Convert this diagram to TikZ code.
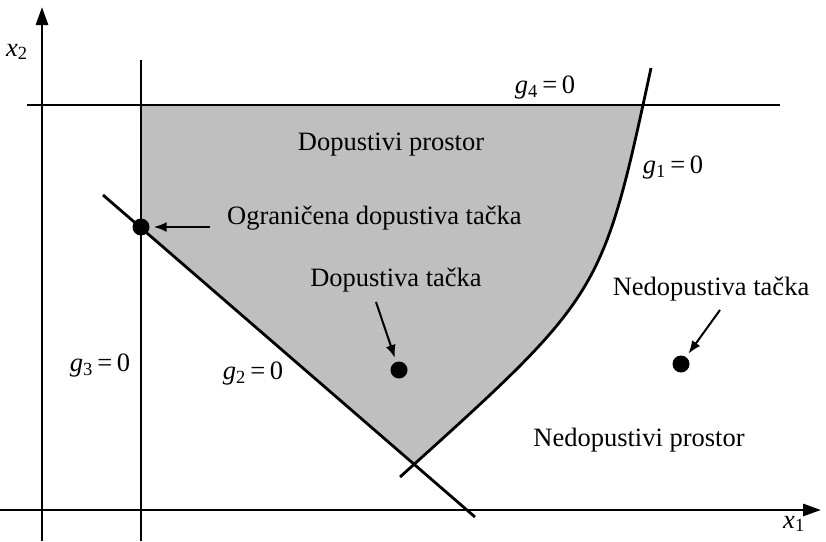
\documentclass[tikz,border=0pt]{standalone}
\usepackage{fontspec}
\setmainfont{Liberation Serif}
\usetikzlibrary{arrows.meta,positioning}
\tikzset{granica/.style={line width=2.8pt},osa/.style={line width=2.8pt,-{Triangle[length=18pt,width=12pt]}},strel/.style={line width=2pt,-{Latex[length=13pt,width=10pt]}},tacka/.style={circle,fill=black,inner sep=0pt,minimum size=17pt},oznaka/.style={font=\fontsize{26.5}{30}\selectfont,inner sep=1pt}}
\newcommand{\gnul}[1]{\textit{g}\textsubscript{#1}\,=\,0}

\begin{document}
\begin{tikzpicture}[x=1pt,y=-1pt]
\useasboundingbox (0,0) rectangle (826,541);
% dopustivi prostor
\begin{scope}
\clip (141,105) -- (760,105) -- (760,764) -- (141,228) -- cycle;
\fill[black!25] (400,477) .. controls (602,295) .. (651,68) -- (141,68) -- (141,477) -- cycle;
\end{scope}
% ose
\coordinate (o1) at (0,510);
\coordinate (o2) at (42,541);
\draw[osa] (o1) -- (821,510);
\draw[osa] (o2) -- (42,7);
\node[oznaka] (x1) at (794,524) {\textit{x}\textsubscript{1}};
\node[oznaka] (x2) at (17,52) {\textit{x}\textsubscript{2}};
% ogranicenja
\coordinate (g3a) at (141,60);
\coordinate (g3b) at (141,541);
\coordinate (g4a) at (27,105);
\coordinate (g4b) at (780,105);
\coordinate (g2a) at (103,195);
\coordinate (g2b) at (475,517);
\coordinate (g1a) at (400,477);
\coordinate (g1b) at (651,68);
\draw[granica] (g3a) -- (g3b);
\draw[granica] (g4a) -- (g4b);
\draw[granica] (g2a) -- (g2b);
\draw[granica] (g1a) .. controls (602,295) .. (g1b);
\node[oznaka] (lg4) at (545,88) {\gnul{4}};
\node[oznaka] (lg1) at (673,168) {\gnul{1}};
\node[oznaka] (lg3) at (100,366) {\gnul{3}};
\node[oznaka] (lg2) at (253,374) {\gnul{2}};
% tacke
\node[tacka] (t1) at (141,227) {};
\node[tacka] (t2) at (399,370) {};
\node[tacka] (t3) at (681,364) {};
\node[oznaka] (dp) at (391,145) {Dopustivi prostor};
\node[oznaka] (np) at (639,440) {Nedopustivi prostor};
\node[oznaka,anchor=west] (ogr) at (226,218) {Ograničena dopustiva tačka};
\node[oznaka] (dt) at (396,280) {Dopustiva tačka};
\node[oznaka] (nt) at (711,289) {Nedopustiva tačka};
\coordinate (s1) at (210,227);
\coordinate (s2) at (376,302);
\coordinate (s3) at (720,310);
\draw[strel,shorten >=4pt] (s1) -- (t1);
\draw[strel,shorten >=4pt] (s2) -- (t2);
\draw[strel,shorten >=4pt] (s3) -- (t3);
\end{tikzpicture}
\end{document}
